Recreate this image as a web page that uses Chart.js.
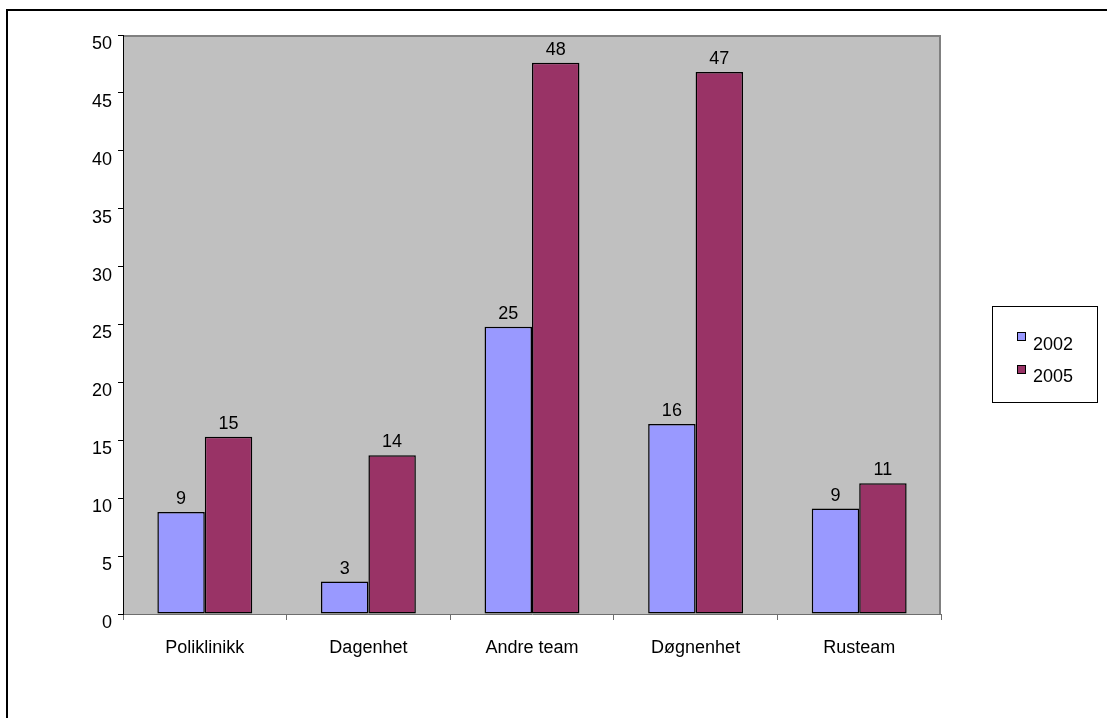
<!DOCTYPE html>
<html>
<head>
<meta charset="utf-8">
<script src="https://cdn.jsdelivr.net/npm/chart.js@4/dist/chart.umd.min.js"></script>
<style>
  html, body { margin: 0; padding: 0; background: #ffffff; }
  #c { display: block; }
</style>
</head>
<body>
<canvas id="c" width="1107" height="718"></canvas>
<script>
// Number of referrals per unit, 2002 vs 2005
const categories = ['Poliklinikk', 'Dagenhet', 'Andre team', 'Døgnenhet', 'Rusteam'];
const seriesNames = ['2002', '2005'];
const values2002 = [8.8, 2.8, 24.8, 16.4, 9.1];
const values2005 = [15.3, 13.7, 47.6, 46.8, 11.3];
const yMin = 0;
const yMax = 50;
const yStep = 5;

const FONT = { family: '"Liberation Sans", Arial, sans-serif', size: 18 };
const FONT_CSS = '18px "Liberation Sans", Arial, sans-serif';

// Page frame, grey plot background and plot border
const framePlugin = {
  id: 'frame',
  beforeDraw(chart) {
    const { ctx, chartArea: a } = chart;
    ctx.save();
    ctx.fillStyle = '#ffffff';
    ctx.fillRect(0, 0, chart.width, chart.height);
    ctx.strokeStyle = '#000000';
    ctx.lineWidth = 2;
    ctx.beginPath();
    ctx.moveTo(7, chart.height + 5);
    ctx.lineTo(7, 10);
    ctx.lineTo(chart.width + 5, 10);
    ctx.stroke();
    ctx.fillStyle = '#c0c0c0';
    ctx.fillRect(a.left, a.top, a.right - a.left, a.bottom - a.top);
    ctx.strokeStyle = '#808080';
    ctx.lineWidth = 2;
    ctx.beginPath();
    ctx.moveTo(a.left, a.top + 1);
    ctx.lineTo(a.right - 1, a.top + 1);
    ctx.lineTo(a.right - 1, a.bottom);
    ctx.stroke();
    ctx.restore();
  }
};

// Rounded value printed above each bar
const valueLabelPlugin = {
  id: 'valueLabels',
  afterDatasetsDraw(chart) {
    const { ctx } = chart;
    ctx.save();
    ctx.font = FONT_CSS;
    ctx.fillStyle = '#000000';
    ctx.textAlign = 'center';
    ctx.textBaseline = 'alphabetic';
    chart.data.datasets.forEach((ds, di) => {
      chart.getDatasetMeta(di).data.forEach((bar, i) => {
        ctx.fillText(String(Math.round(ds.data[i])), bar.x, bar.y - 8);
      });
    });
    ctx.restore();
  }
};

// Boxed legend on the right
const boxLegendPlugin = {
  id: 'boxLegend',
  afterDraw(chart) {
    const { ctx } = chart;
    ctx.save();
    ctx.strokeStyle = '#000000';
    ctx.lineWidth = 1;
    ctx.strokeRect(992.5, 306.5, 105, 96);
    ctx.font = FONT_CSS;
    ctx.textAlign = 'left';
    ctx.textBaseline = 'alphabetic';
    chart.data.datasets.forEach((ds, i) => {
      const sy = 332 + i * 33;
      ctx.fillStyle = ds.backgroundColor;
      ctx.fillRect(1017, sy, 9, 9);
      ctx.strokeStyle = '#000000';
      ctx.strokeRect(1017.5, sy + 0.5, 8, 8);
      ctx.fillStyle = '#000000';
      ctx.fillText(ds.label, 1033, 350 + i * 32);
    });
    ctx.restore();
  }
};

new Chart(document.getElementById('c'), {
  type: 'bar',
  data: {
    labels: categories,
    datasets: [
      { label: seriesNames[0], data: values2002, backgroundColor: '#9999ff', borderColor: '#000000', borderWidth: 1.5, borderSkipped: false },
      { label: seriesNames[1], data: values2005, backgroundColor: '#993366', borderColor: '#000000', borderWidth: 1.5, borderSkipped: false }
    ]
  },
  options: {
    responsive: false,
    animation: false,
    devicePixelRatio: 1,
    layout: { padding: { top: 35, right: 166, bottom: 0, left: 0 } },
    datasets: { bar: { categoryPercentage: 0.58, barPercentage: 1.0 } },
    plugins: {
      legend: { display: false },
      tooltip: { enabled: false }
    },
    scales: {
      x: {
        grid: { offset: true, drawOnChartArea: false, drawTicks: true, tickLength: 6, color: '#6e6e6e' },
        border: { display: true, color: '#6e6e6e', width: 1 },
        ticks: { font: FONT, color: '#000000', padding: 17, maxRotation: 0, autoSkip: false },
        afterFit(s) { s.height = 104; }
      },
      y: {
        min: yMin,
        max: yMax,
        grid: { drawOnChartArea: false, drawTicks: true, tickLength: 5, color: '#000000' },
        border: { display: true, color: '#000000', width: 1 },
        ticks: { stepSize: yStep, font: FONT, color: '#000000', padding: 6, labelOffset: 9 },
        afterFit(s) { s.width = 123; }
      }
    }
  },
  plugins: [framePlugin, valueLabelPlugin, boxLegendPlugin]
});
</script>
</body>
</html>
